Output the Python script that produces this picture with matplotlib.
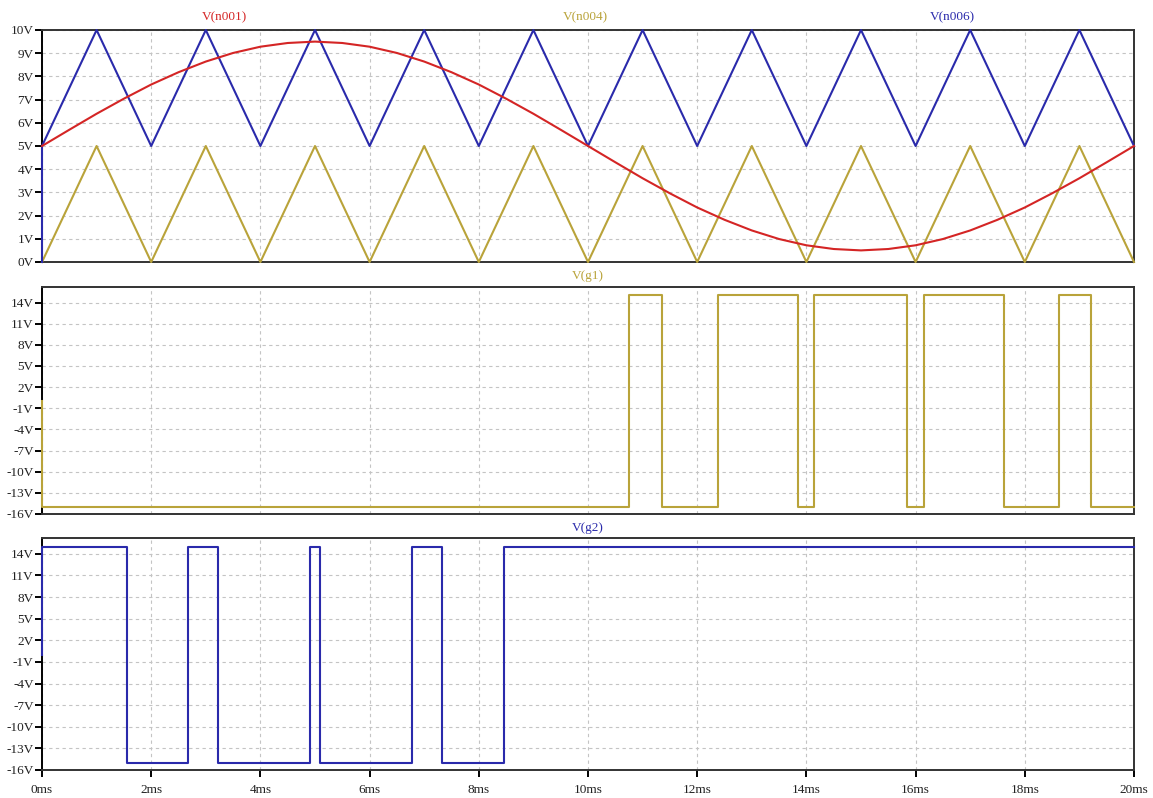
import matplotlib
matplotlib.use("Agg")
import matplotlib.pyplot as plt

plt.rcParams["font.family"] = ["Liberation Serif", "DejaVu Serif"]

RED = "#d42525"
GOLD = "#b9a33a"
BLUE = "#2a2aab"
GRID = "#c4c4c4"
FRAME = "#333333"

# ---- top panel: carriers and reference (ms, V) ----
tri_t = [0, 1, 2, 3, 4, 5, 6, 7, 8, 9, 10, 11, 12, 13, 14, 15, 16, 17, 18, 19, 20]
n004_v = [0, 5, 0, 5, 0, 5, 0, 5, 0, 5, 0, 5, 0, 5, 0, 5, 0, 5, 0, 5, 0]
n006_t = [0, 0, 1, 2, 3, 4, 5, 6, 7, 8, 9, 10, 11, 12, 13, 14, 15, 16, 17, 18, 19, 20]
n006_v = [0, 5, 10, 5, 10, 5, 10, 5, 10, 5, 10, 5, 10, 5, 10, 5, 10, 5, 10, 5, 10, 5]

sin_t = [0, 0.5, 1, 1.5, 2, 2.5, 3, 3.5, 4, 4.5, 5, 5.5, 6, 6.5, 7, 7.5, 8, 8.5, 9, 9.5,
         10, 10.5, 11, 11.5, 12, 12.5, 13, 13.5, 14, 14.5, 15, 15.5, 16, 16.5, 17, 17.5,
         18, 18.5, 19, 19.5, 20]
n001_v = [5.00, 5.70, 6.39, 7.04, 7.65, 8.18, 8.64, 9.01, 9.28, 9.44, 9.50, 9.44, 9.28,
          9.01, 8.64, 8.18, 7.65, 7.04, 6.39, 5.70, 5.00, 4.30, 3.61, 2.96, 2.35, 1.82,
          1.36, 0.99, 0.72, 0.56, 0.50, 0.56, 0.72, 0.99, 1.36, 1.82, 2.35, 2.96, 3.61,
          4.30, 5.00]

# ---- gate signals: switching instants (ms) and levels held after each ----
g1_t = [0, 0, 10.76, 11.36, 12.375, 13.84, 14.14, 15.85, 16.16, 17.62, 18.63, 19.22, 20]
g1_v = [0, -15, 15, -15, 15, -15, 15, -15, 15, -15, 15, -15, -15]
g2_t = [0, 0, 1.55, 2.67, 3.22, 4.91, 5.10, 6.78, 7.33, 8.46, 20]
g2_v = [0, 15, -15, 15, -15, 15, -15, 15, -15, 15, 15]

top_ticks = list(range(0, 11))
gate_ticks = [14, 11, 8, 5, 2, -1, -4, -7, -10, -13, -16]
x_ticks = list(range(0, 21, 2))

W, H = 1153, 798
fig = plt.figure(figsize=(W / 100, H / 100), dpi=100)

left, right = 42 / W, 1134 / W
panels = [(30, 262), (287, 514), (538, 770)]
axes = []
for top, bot in panels:
    ax = fig.add_axes([left, 1 - bot / H, right - left, (bot - top) / H])
    axes.append(ax)


def style(ax, yticks, ylim, fmt):
    ax.set_xlim(0, 20)
    ax.set_ylim(*ylim)
    ax.set_yticks(yticks)
    ax.set_yticklabels([fmt(v) for v in yticks])
    ax.set_xticks(x_ticks)
    ax.yaxis.grid(True, color=GRID, lw=0.8, ls=(0, (3, 3)))
    ax.xaxis.grid(True, color=GRID, lw=0.8, ls=(0, (3, 3)))
    ax.set_axisbelow(True)
    for s in ax.spines.values():
        s.set_color(FRAME)
        s.set_linewidth(1.4)
    ax.spines["left"].set_color("black")
    ax.tick_params(axis="y", direction="out", length=5, width=1.4, color="black",
                   labelsize=9.5, pad=1, labelcolor="#222222")
    ax.tick_params(axis="x", direction="out", length=5, width=1.4, color="black",
                   labelsize=9.5, pad=5, labelcolor="#222222")


ax1, ax2, ax3 = axes
kw = dict(lw=1.5, clip_on=False, zorder=3)

ax1.plot(tri_t, n004_v, color=GOLD, **kw)
ax1.plot(n006_t, n006_v, color=BLUE, **kw)
ax1.plot(sin_t, n001_v, color=RED, **kw)
style(ax1, top_ticks, (0, 10), lambda v: f"{v}V")
ax1.tick_params(axis="x", length=0, labelbottom=False)

ax2.step(g1_t, g1_v, where="post", color=GOLD, **kw)
style(ax2, gate_ticks, (-16, 16.2), lambda v: f"{v}V")
ax2.tick_params(axis="x", length=0, labelbottom=False)

ax3.step(g2_t, g2_v, where="post", color=BLUE, **kw)
style(ax3, gate_ticks, (-16, 16.2), lambda v: f"{v}V")
ax3.set_xticklabels([f"{v}ms" for v in x_ticks])

# trace names above each pane
fig.text(224 / W, 1 - 17 / H, "V(n001)", color=RED, fontsize=9.5, ha="center", va="center")
fig.text(585 / W, 1 - 17 / H, "V(n004)", color=GOLD, fontsize=9.5, ha="center", va="center")
fig.text(952 / W, 1 - 17 / H, "V(n006)", color=BLUE, fontsize=9.5, ha="center", va="center")
fig.text(588 / W, 1 - 276 / H, "V(g1)", color=GOLD, fontsize=9.5, ha="center", va="center")
fig.text(588 / W, 1 - 528 / H, "V(g2)", color=BLUE, fontsize=9.5, ha="center", va="center")

fig.savefig("out.png", dpi=100)
